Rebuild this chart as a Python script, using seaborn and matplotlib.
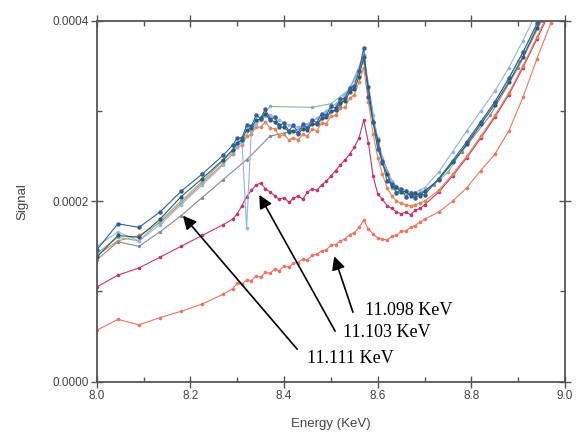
import numpy as np
import pandas as pd
import matplotlib
matplotlib.use("Agg")
import matplotlib.pyplot as plt
import seaborn as sns
from matplotlib.ticker import MultipleLocator, FormatStrFormatter

# ---------------- data (Signal values in units of 1e-4) ----------------
x_head = [8.00, 8.045, 8.09, 8.135, 8.18, 8.225, 8.27]
x_dense = [8.29, 8.30, 8.31, 8.32, 8.33, 8.34, 8.35, 8.36, 8.37, 8.38, 8.39,
           8.40, 8.41, 8.42, 8.43, 8.44, 8.45, 8.46, 8.47, 8.48, 8.49,
           8.50, 8.51, 8.52, 8.53, 8.54, 8.55, 8.56, 8.57, 8.58, 8.59,
           8.60, 8.61, 8.62, 8.63, 8.64, 8.65, 8.66, 8.67, 8.68, 8.69, 8.70]
x_tail = [8.73, 8.76, 8.79, 8.82, 8.85, 8.88, 8.91, 8.94, 8.97, 9.00]
energy = x_head + x_dense + x_tail

blue = ([1.46, 1.75, 1.71, 1.88, 2.11, 2.30, 2.51] +
        [2.62, 2.70, 2.70, 2.84, 2.83, 2.95, 2.92, 3.02, 2.91, 2.93, 2.84,
         2.87, 2.78, 2.84, 2.76, 2.85, 2.81, 2.90, 2.87, 2.97, 2.95,
         3.05, 3.03, 3.13, 3.14, 3.25, 3.28, 3.44, 3.70, 3.16, 2.88,
         2.58, 2.44, 2.22, 2.19, 2.09, 2.13, 2.05, 2.09, 2.03, 2.08, 2.07] +
        [2.25, 2.45, 2.66, 2.88, 3.10, 3.36, 3.65, 3.97, 4.30, 4.60])
teal = ([1.38, 1.62, 1.60, 1.80, 2.05, 2.25, 2.46] +
        [2.57, 2.65, 2.68, 2.79, 2.81, 2.90, 2.91, 2.97, 2.90, 2.88, 2.82,
         2.82, 2.77, 2.78, 2.75, 2.80, 2.79, 2.86, 2.85, 2.92, 2.93,
         3.00, 3.01, 3.09, 3.11, 3.21, 3.24, 3.38, 3.60, 3.26, 2.88,
         2.68, 2.42, 2.30, 2.17, 2.16, 2.10, 2.11, 2.06, 2.09, 2.06, 2.11] +
        [2.24, 2.43, 2.63, 2.85, 3.07, 3.32, 3.60, 3.92, 4.25, 4.55])
light_blue = ([1.50, 1.66, 1.56, 1.74, 1.96, 2.18, 2.40] +
              [2.55, 2.60, 2.66, 1.70, 2.78, 2.84, 2.90, 2.94, 2.96, 2.93, 2.90,
               2.87, 2.84, 2.83, 2.82, 2.84, 2.86, 2.89, 2.92, 2.96, 3.00,
               3.04, 3.08, 3.13, 3.19, 3.26, 3.34, 3.45, 3.62, 3.28, 2.95,
               2.70, 2.48, 2.32, 2.22, 2.17, 2.14, 2.12, 2.10, 2.10, 2.12, 2.15] +
              [2.32, 2.55, 2.78, 3.00, 3.22, 3.48, 3.78, 4.10, 4.40, 4.70])
orange = ([1.40, 1.56, 1.62, 1.76, 1.98, 2.20, 2.42] +
          [2.52, 2.60, 2.62, 2.72, 2.74, 2.82, 2.82, 2.88, 2.81, 2.80, 2.72,
           2.74, 2.68, 2.70, 2.68, 2.74, 2.72, 2.80, 2.78, 2.87, 2.86,
           2.94, 2.95, 3.03, 3.04, 3.14, 3.18, 3.32, 3.48, 3.10, 2.75,
           2.48, 2.30, 2.15, 2.06, 2.00, 1.98, 1.96, 1.95, 1.96, 1.98, 2.00] +
          [2.12, 2.30, 2.50, 2.72, 2.95, 3.20, 3.50, 3.82, 4.15, 4.50])
magenta = ([1.05, 1.18, 1.26, 1.38, 1.50, 1.62, 1.74] +
           [1.80, 1.86, 1.95, 2.05, 2.12, 2.18, 2.20, 2.14, 2.10, 2.06, 2.02,
            2.04, 1.99, 2.03, 2.06, 2.02, 2.10, 2.14, 2.12, 2.18, 2.22,
            2.28, 2.34, 2.40, 2.46, 2.52, 2.60, 2.70, 2.90, 2.65, 2.28,
            2.08, 2.02, 1.95, 1.92, 1.88, 1.86, 1.88, 1.85, 1.90, 1.92, 1.96] +
           [2.10, 2.28, 2.48, 2.70, 2.93, 3.18, 3.48, 3.80, 4.12, 4.45])
red = ([0.57, 0.69, 0.63, 0.71, 0.78, 0.86, 0.97] +
       [1.03, 1.09, 1.08, 1.13, 1.12, 1.17, 1.16, 1.21, 1.20, 1.25, 1.23,
        1.28, 1.27, 1.31, 1.32, 1.36, 1.35, 1.40, 1.41, 1.45, 1.46,
        1.51, 1.52, 1.56, 1.58, 1.63, 1.65, 1.71, 1.79, 1.69, 1.64,
        1.59, 1.58, 1.57, 1.61, 1.62, 1.67, 1.67, 1.71, 1.73, 1.77, 1.80] +
       [1.88, 2.00, 2.15, 2.34, 2.52, 2.78, 3.15, 3.58, 3.98, 4.40])

x_gray = [8.00, 8.045, 8.09, 8.135, 8.18, 8.225, 8.27, 8.32, 8.37, 8.42, 8.47,
          8.52, 8.57, 8.60, 8.64, 8.68, 8.72, 8.78, 8.84, 8.90, 8.95]
gray = [1.35, 1.55, 1.50, 1.66, 1.84, 2.04, 2.24, 2.46, 2.72, 2.78, 2.86,
        3.05, 3.55, 2.60, 2.10, 2.06, 2.18, 2.55, 2.95, 3.48, 4.00]
x_green = [8.00, 8.045, 8.09, 8.135, 8.18, 8.225, 8.27, 8.30, 8.33, 8.37, 8.46,
           8.50, 8.54, 8.57, 8.60, 8.63, 8.67, 8.70, 8.75, 8.80, 8.85, 8.90, 8.95]
green = [1.42, 1.60, 1.56, 1.78, 2.00, 2.22, 2.45, 2.62, 2.80, 3.05, 3.04,
         3.08, 3.24, 3.62, 2.66, 2.15, 2.08, 2.10, 2.32, 2.72, 3.10, 3.55, 4.05]

labels = ["11.098 KeV", "11.103 KeV", "11.111 KeV"]
SCALE = 1e-4

# ---------------- plotting ----------------
sns.set_style("ticks")
plt.rcParams["font.family"] = ["Liberation Sans", "DejaVu Sans"]

fig = plt.figure(figsize=(5.76, 4.37), dpi=100)
ax = fig.add_axes([0.168, 0.1266, 0.813, 0.826])

series = [
    (energy, red, "#ee7565", 2.6),
    (energy, magenta, "#c8336e", 2.6),
    (energy, orange, "#e0875a", 2.8),
    (x_gray, gray, "#8a8a8a", 2.4),
    (x_green, green, "#82b99c", 2.6),
    (energy, light_blue, "#93b4e2", 2.6),
    (energy, teal, "#2f5c66", 3.0),
    (energy, blue, "#2f5f9e", 3.2),
]
for xs, ys, col, ms in series:
    sns.lineplot(x=np.array(xs), y=np.array(ys) * SCALE, ax=ax, color=col,
                 lw=0.8, marker="o", markersize=ms, markeredgewidth=0,
                 sort=False, estimator=None)

ax.set_xlim(8.0, 9.0)
ax.set_ylim(0.0, 0.0004)
ax.xaxis.set_major_locator(MultipleLocator(0.2))
ax.xaxis.set_minor_locator(MultipleLocator(0.1))
ax.yaxis.set_major_locator(MultipleLocator(0.0002))
ax.yaxis.set_minor_locator(MultipleLocator(0.0001))
ax.xaxis.set_major_formatter(FormatStrFormatter("%.1f"))
ax.yaxis.set_major_formatter(FormatStrFormatter("%.4f"))
ax.tick_params(which="major", direction="inout", length=8, width=1.0,
               labelsize=8.5, top=True, right=True, color="#555555",
               labelcolor="#444444", pad=2)
ax.tick_params(which="minor", direction="in", length=3.5, width=1.0,
               top=True, right=True, color="#555555")
for s in ax.spines.values():
    s.set_color("#555555")
    s.set_linewidth(1.3)
    s.set_visible(True)

ax.set_xlabel("Energy (KeV)", fontsize=9.5, color="#444444")
ax.set_ylabel("Signal", fontsize=9.5, color="#444444")
ax.xaxis.set_label_coords(0.5, -0.10)
ax.yaxis.set_label_coords(-0.147, 0.5)

# annotations: (label, arrow tip, arrow tail, text anchor)
ann = [
    (labels[0], (8.507, 1.39), (8.547, 0.77), (8.573, 0.79)),
    (labels[1], (8.347, 2.07), (8.509, 0.56), (8.526, 0.54)),
    (labels[2], (8.184, 1.84), (8.428, 0.36), (8.449, 0.26)),
]
for lab, tip, tail, txt in ann:
    ax.annotate("", xy=(tip[0], tip[1] * SCALE), xytext=(tail[0], tail[1] * SCALE),
                arrowprops=dict(arrowstyle="-|>", color="black", lw=1.2,
                                mutation_scale=20, shrinkA=0, shrinkB=0))
    ax.text(txt[0], txt[1] * SCALE, lab, fontsize=13, va="center", ha="left",
            family=["Liberation Serif", "DejaVu Serif"], color="black")

fig.savefig("out.png", dpi=100)
